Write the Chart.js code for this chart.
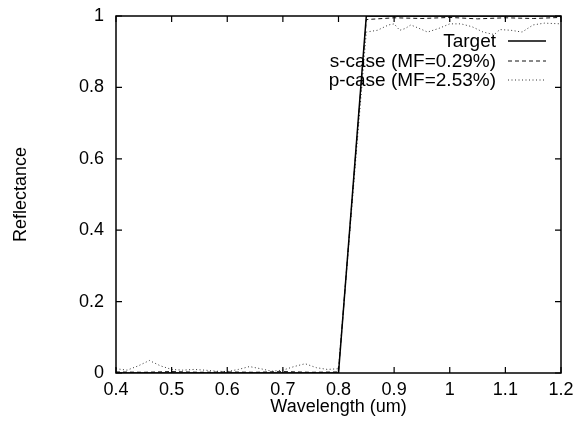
<!DOCTYPE html>
<html>
<head>
<meta charset="utf-8">
<script src="https://cdn.jsdelivr.net/npm/chart.js@4/dist/chart.umd.min.js"></script>
<style>
  html, body { margin: 0; padding: 0; background: #fff; }
  #wrap { width: 574px; height: 428px; }
</style>
</head>
<body>
<div id="wrap"><canvas id="c" width="574" height="428"></canvas></div>
<script>
// ---- data ----
const xTicks = [0.4, 0.5, 0.6, 0.7, 0.8, 0.9, 1.0, 1.1, 1.2];
const yTicks = [0, 0.2, 0.4, 0.6, 0.8, 1];

const targetX = [0.40, 0.80, 0.85, 1.20];
const targetY = [0.00, 0.00, 1.00, 1.00];

const sCaseX = [0.40, 0.45, 0.50, 0.55, 0.60, 0.65, 0.70, 0.75, 0.80, 0.85, 0.90, 0.95, 1.00, 1.05, 1.10, 1.15, 1.20];
const sCaseY = [0.003, 0.002, 0.004, 0.002, 0.003, 0.002, 0.004, 0.002, 0.003, 0.990, 0.995, 0.993, 0.996, 0.992, 0.995, 0.993, 0.996];

const pCaseX = [0.40, 0.42, 0.44, 0.46, 0.48, 0.50, 0.52, 0.54, 0.56, 0.58, 0.60, 0.62, 0.64, 0.66, 0.68, 0.70, 0.72, 0.74, 0.76, 0.78, 0.80,
                0.85, 0.87, 0.89, 0.90, 0.91, 0.92, 0.93, 0.95, 0.96, 0.98, 1.00, 1.02, 1.04, 1.06, 1.08, 1.09, 1.11, 1.13, 1.15, 1.17, 1.20];
const pCaseY = [0.012, 0.008, 0.020, 0.035, 0.020, 0.010, 0.008, 0.010, 0.008, 0.005, 0.004, 0.010, 0.018, 0.012, 0.005, 0.008, 0.018, 0.026, 0.015, 0.010, 0.012,
                0.955, 0.960, 0.975, 0.978, 0.960, 0.965, 0.975, 0.962, 0.955, 0.965, 0.978, 0.978, 0.970, 0.955, 0.948, 0.962, 0.960, 0.955, 0.975, 0.980, 0.978];

const seriesLabels = ['Target', 's-case (MF=0.29%)', 'p-case (MF=2.53%)'];
const xTitle = 'Wavelength (um)';
const yTitle = 'Reflectance';

function pts(xs, ys) { return xs.map((x, i) => ({ x: x, y: ys[i] })); }

const FAMILY = '"Liberation Sans", Arial, Helvetica, sans-serif';
const FONT = { family: FAMILY, size: 18 };
const KEY_FONT_SIZE = 19;

// frame + inward ticks (gnuplot style)
const framePlugin = {
  id: 'frame',
  afterDatasetsDraw(chart) {
    const { ctx, chartArea: a, scales } = chart;
    ctx.save();
    ctx.strokeStyle = '#000';
    ctx.lineWidth = 1.5;
    ctx.strokeRect(a.left, a.top, a.right - a.left, a.bottom - a.top);
    ctx.lineWidth = 1.2;
    const L = 6;
    ctx.beginPath();
    xTicks.forEach(v => {
      const px = scales.x.getPixelForValue(v);
      ctx.moveTo(px, a.bottom); ctx.lineTo(px, a.bottom - L);
      ctx.moveTo(px, a.top); ctx.lineTo(px, a.top + L);
    });
    yTicks.forEach(v => {
      const py = scales.y.getPixelForValue(v);
      ctx.moveTo(a.left, py); ctx.lineTo(a.left + L, py);
      ctx.moveTo(a.right, py); ctx.lineTo(a.right - L, py);
    });
    ctx.stroke();
    ctx.restore();
  }
};

// gnuplot-style key: right-aligned text followed by line sample
const keyPlugin = {
  id: 'gkey',
  afterDatasetsDraw(chart) {
    const { ctx } = chart;
    const textRight = 496, lineX0 = 508, lineX1 = 546;
    const rows = [41, 61, 80];
    ctx.save();
    ctx.font = KEY_FONT_SIZE + 'px ' + FAMILY;
    ctx.textAlign = 'right';
    ctx.textBaseline = 'middle';
    chart.data.datasets.forEach((ds, i) => {
      const y = rows[i];
      ctx.fillStyle = '#000';
      ctx.fillText(ds.label, textRight, y + 1);
      ctx.strokeStyle = ds.borderColor;
      ctx.lineWidth = ds.borderWidth;
      ctx.setLineDash(ds.borderDash || []);
      ctx.beginPath();
      ctx.moveTo(lineX0, y); ctx.lineTo(lineX1, y);
      ctx.stroke();
    });
    ctx.restore();
  }
};

new Chart(document.getElementById('c'), {
  type: 'line',
  data: {
    datasets: [
      { label: seriesLabels[0], data: pts(targetX, targetY), borderColor: '#000', borderWidth: 1.5, pointRadius: 0, tension: 0 },
      { label: seriesLabels[1], data: pts(sCaseX, sCaseY), borderColor: '#111', borderWidth: 1, borderDash: [4, 3], pointRadius: 0, tension: 0 },
      { label: seriesLabels[2], data: pts(pCaseX, pCaseY), borderColor: '#333', borderWidth: 1, borderDash: [1, 2.5], pointRadius: 0, tension: 0 }
    ]
  },
  options: {
    responsive: false,
    animation: false,
    devicePixelRatio: 1,
    layout: { padding: { top: 16, right: 13, left: 0, bottom: 0 } },
    plugins: { legend: { display: false }, tooltip: { enabled: false } },
    scales: {
      x: {
        type: 'linear', min: 0.4, max: 1.2,
        afterBuildTicks(s) { s.ticks = xTicks.map(v => ({ value: v })); },
        afterFit(s) { s.height = 55; s.paddingLeft = 0; s.paddingRight = 0; },
        grid: { display: false, drawTicks: false },
        border: { display: false },
        ticks: { color: '#000', font: FONT, padding: 6, maxRotation: 0, autoSkip: false,
                 callback: v => String(+(+v).toFixed(1)) },
        title: { display: true, text: xTitle, color: '#000', font: FONT, padding: { top: 0, bottom: 10 } }
      },
      y: {
        type: 'linear', min: 0, max: 1,
        afterBuildTicks(s) { s.ticks = yTicks.map(v => ({ value: v })); },
        afterFit(s) { s.width = 116; s.paddingTop = 0; s.paddingBottom = 0; },
        grid: { display: false, drawTicks: false },
        border: { display: false },
        ticks: { color: '#000', font: FONT, padding: 12, autoSkip: false,
                 callback: v => String(+(+v).toFixed(1)) },
        title: { display: true, text: yTitle, color: '#000', font: FONT, padding: { top: 10, bottom: 0 } }
      }
    }
  },
  plugins: [framePlugin, keyPlugin]
});
</script>
</body>
</html>
